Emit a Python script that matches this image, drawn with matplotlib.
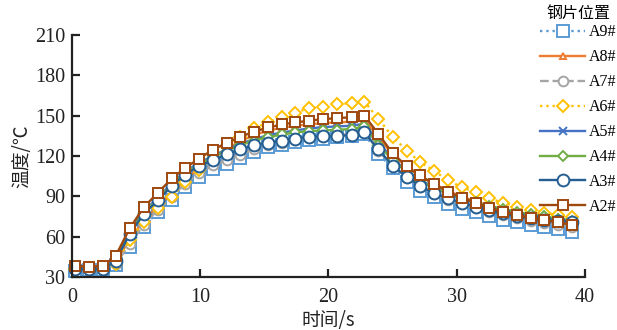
import matplotlib
matplotlib.use("Agg")
import matplotlib.pyplot as plt

time_s = [0.2, 1.3, 2.4, 3.4, 4.5, 5.6, 6.7, 7.8, 8.8, 9.9, 11.0, 12.1, 13.1, 14.2,
          15.3, 16.4, 17.4, 18.5, 19.6, 20.7, 21.8, 22.8, 23.9, 25.0, 26.1, 27.1,
          28.2, 29.3, 30.4, 31.5, 32.5, 33.6, 34.7, 35.8, 36.8, 37.9, 39.0]

A9 = [34.5, 35.5, 35.5, 38.9, 52.6, 67.4, 78.6, 87.3, 97.2, 104.6, 110.5, 114, 118.5, 123,
      126.5, 128.5, 130.5, 132, 133, 133.9, 134.9, 136.5, 121.5, 111, 101, 94, 89.5, 84.5,
      80.5, 78, 75, 72.5, 71, 69, 67, 65.5, 63.7]
A8 = [36, 36.5, 36.5, 41, 58, 72, 83, 92, 102, 111, 119, 125.5, 131, 135.5, 139, 141,
      142.5, 143.5, 144.5, 145, 145.5, 147, 134, 121, 112, 105, 99.5, 94, 90, 86, 83, 80.5,
      78, 76, 74.5, 73, 71.5]
A7 = [35, 35.5, 36, 39.5, 54.5, 69, 80, 89.5, 99.5, 107, 113, 117, 121, 125, 128, 130,
      132, 133.5, 134.5, 135.5, 136.5, 138, 123.5, 113, 104, 97, 92, 87.5, 84, 81, 78, 76,
      74, 72, 70.5, 69, 67.5]
A6 = [36, 36.5, 36.5, 40, 57.5, 71.2, 81.1, 89.8, 100.9, 109.6, 118, 127, 134, 140.5,
      145, 149, 152.3, 155.5, 156.7, 158.5, 159.5, 160.5, 147.5, 134.4, 124, 115.8, 109.1,
      102.2, 96.7, 93, 88.5, 85.3, 82.3, 79.9, 77.8, 76.1, 74.4]
A5 = [36, 36.5, 36.5, 43, 64, 79, 89, 100, 108, 115, 120, 125, 129, 132.5, 135.5, 137.5,
      139, 140.5, 141.5, 142, 142.5, 144, 130, 118, 109, 102.5, 97, 92, 88, 85, 82, 79.5,
      77.5, 75.5, 74, 72.5, 71]
A4 = [36, 36, 36, 42.5, 63, 78, 88, 99, 107, 114, 119, 124, 128, 131.5, 134, 136, 137.5,
      138.5, 139, 139.5, 140, 142, 128, 117, 108, 101.5, 96.5, 92, 88.5, 85.5, 83, 80.5,
      78.5, 76.5, 75, 73.5, 72]
A3 = [36, 36, 36, 42, 62, 77, 87, 98, 106, 112.6, 117, 121.5, 125, 128, 130, 131.5, 133,
      134.2, 134.5, 135, 135.5, 137.5, 125, 112.6, 104.6, 97.7, 92.7, 88.5, 85.3, 82.3,
      79.5, 77.4, 75.5, 73.8, 72.5, 71.5, 71]
A2 = [38.2, 37.7, 38.2, 45.6, 66.2, 81.9, 92.7, 103.4, 110.9, 118, 124.7, 130, 134.2,
      138.1, 141.2, 143.5, 145, 146.2, 147.4, 148.2, 148.8, 150, 136.4, 122, 112.5, 105.5,
      99.5, 93.5, 89, 85, 81.6, 78.6, 76.1, 74.1, 72.4, 70.7, 68.7]

series_labels = ["A9#", "A8#", "A7#", "A6#", "A5#", "A4#", "A3#", "A2#"]
series_values = [A9, A8, A7, A6, A5, A4, A3, A2]
x_ticks = [0, 10, 20, 30, 40]
y_ticks = [30, 60, 90, 120, 150, 180, 210]

styles = [
    dict(color="#5B9BD5", ls=":", marker="s", ms=8.5, mfc="white"),
    dict(color="#ED7D31", ls="-", marker="^", ms=5, mfc="white"),
    dict(color="#A5A5A5", ls="--", marker="o", ms=7, mfc="white"),
    dict(color="#FFC000", ls=":", marker="D", ms=6, mfc="white"),
    dict(color="#4472C4", ls="-", marker="x", ms=5.5, mfc="white"),
    dict(color="#70AD47", ls="-", marker="D", ms=5, mfc="white"),
    dict(color="#255E91", ls="-", marker="o", ms=8.5, mfc="white"),
    dict(color="#9E480E", ls="-", marker="s", ms=7.5, mfc="white"),
]

serif = ["Liberation Serif", "DejaVu Serif"]
cjk = ["Noto Sans CJK SC", "DejaVu Sans"]

fig = plt.figure(figsize=(6.17, 3.30), dpi=100)
ax = fig.add_axes([0.1167, 0.1606, 0.8313, 0.7334])

for lab, vals, st in zip(series_labels, series_values, styles):
    ax.plot(time_s, vals, label=lab, color=st["color"], linestyle=st["ls"],
            linewidth=1.7, marker=st["marker"], markersize=st["ms"],
            markerfacecolor=st["mfc"], markeredgecolor=st["color"],
            markeredgewidth=1.4, clip_on=False)

ax.set_xlim(0, 40)
ax.set_ylim(30, 210)
ax.set_xticks(x_ticks)
ax.set_yticks(y_ticks)
for s in ["top", "right"]:
    ax.spines[s].set_visible(False)
for s in ["left", "bottom"]:
    ax.spines[s].set_linewidth(1.6)
    ax.spines[s].set_color("#222222")
ax.tick_params(direction="in", length=6, width=1.6, colors="#222222",
               labelsize=14.5, pad=5)
ax.tick_params(axis="x", pad=8)
for t in ax.get_xticklabels() + ax.get_yticklabels():
    t.set_fontfamily(serif)
    t.set_color("#222222")

ax.set_xlabel("时间/s", fontsize=13.5, family=cjk, color="#222222", labelpad=2)
ax.set_ylabel("温度/℃", fontsize=13.5, family=cjk, color="#222222", labelpad=2)

leg = fig.legend(loc="upper right", bbox_to_anchor=(1.015, 1.015), frameon=False,
                 prop={"family": serif, "size": 11.5}, handlelength=2.8,
                 handletextpad=0.25, labelspacing=0.56, borderaxespad=0.2,
                 title="钢片位置", title_fontproperties={"family": cjk, "size": 11.5})
leg._legend_box.align = "center"
leg._legend_box.sep = 2

fig.savefig("out.png", dpi=100)
